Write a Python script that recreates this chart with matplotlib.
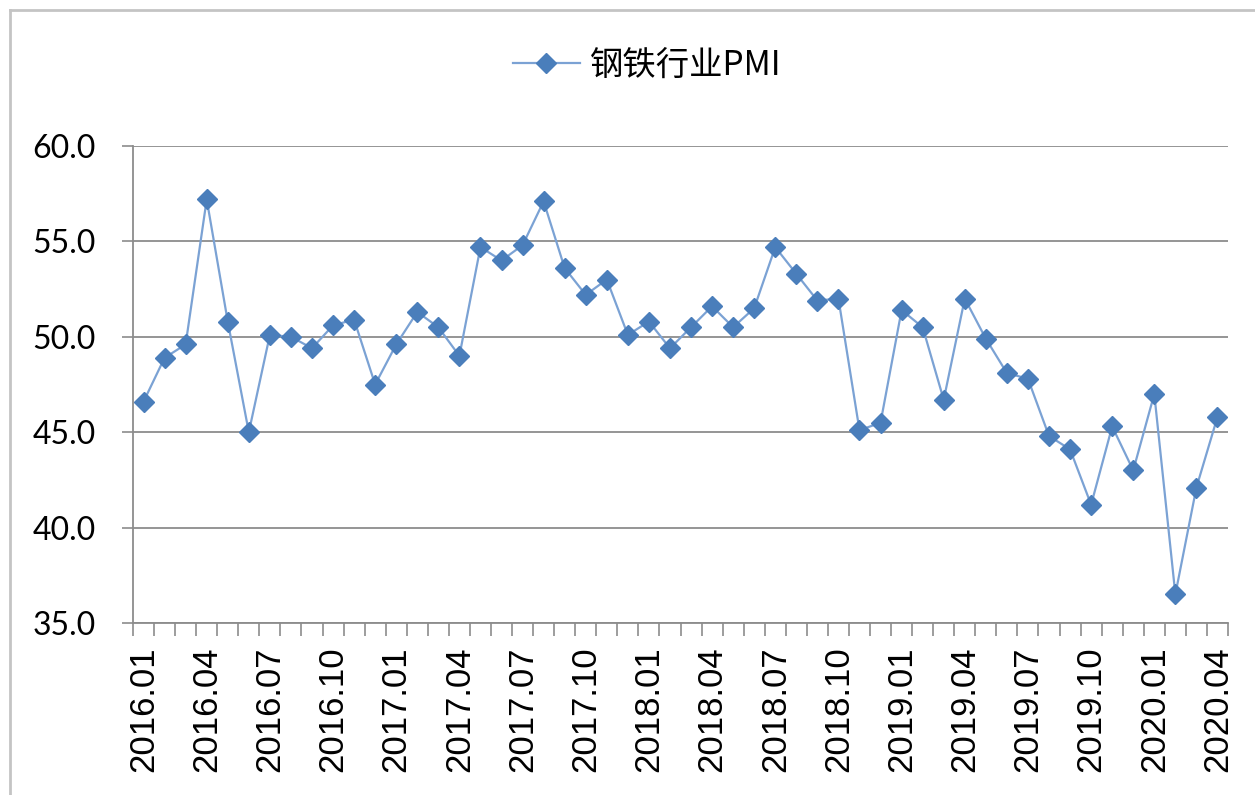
import matplotlib
matplotlib.use("Agg")
import matplotlib.pyplot as plt
from matplotlib.lines import Line2D
from matplotlib.ticker import FixedLocator, FormatStrFormatter

plt.rcParams["font.family"] = ["Liberation Sans", "Noto Sans CJK SC", "DejaVu Sans"]

SERIES_NAME = "钢铁行业PMI"

MONTHS = [f"{y}.{m:02d}" for y in range(2016, 2021) for m in range(1, 13)][:52]

PMI = [
    46.6, 48.9, 49.6, 57.2, 50.8, 45.0, 50.1, 50.0, 49.4, 50.6, 50.9, 47.5,
    49.6, 51.3, 50.5, 49.0, 54.7, 54.0, 54.8, 57.1, 53.6, 52.2, 53.0, 50.1,
    50.8, 49.4, 50.5, 51.6, 50.5, 51.5, 54.7, 53.3, 51.9, 52.0, 45.1, 45.5,
    51.4, 50.5, 46.7, 52.0, 49.9, 48.1, 47.8, 44.8, 44.1, 41.2, 45.3, 43.0,
    47.0, 36.5, 42.1, 45.8,
]

Y_TICKS = [35, 40, 45, 50, 55, 60]

LINE_COLOR = "#7ba2d4"
MARKER_COLOR = "#4a7ebb"
GRID_COLOR = "#8c8c8c"
BORDER_COLOR = "#c4c4c4"


def main() -> None:
    fig = plt.figure(figsize=(12.55, 7.95), dpi=100)
    ax = fig.add_axes([133 / 1255, 1 - 623 / 795, (1228 - 133) / 1255, (623 - 146) / 795])

    x = list(range(len(PMI)))
    ax.plot(x, PMI, color=LINE_COLOR, linewidth=1.6, marker="D", markersize=10,
            markerfacecolor=MARKER_COLOR, markeredgecolor=MARKER_COLOR, label=SERIES_NAME,
            zorder=3)

    ax.set_xlim(-0.5, len(PMI) - 0.5)
    ax.set_ylim(35, 60)
    ax.set_yticks(Y_TICKS)
    ax.yaxis.set_major_formatter(FormatStrFormatter("%.1f"))
    for lbl in ax.get_yticklabels():
        lbl.set_family(["Lato", "DejaVu Sans"])
    ax.grid(axis="y", color=GRID_COLOR, linewidth=1.3)
    ax.set_axisbelow(True)

    label_pos = list(range(0, len(PMI), 3))
    ax.set_xticks(label_pos)
    ax.set_xticklabels([MONTHS[i] for i in label_pos], rotation=90, fontsize=25)
    ax.tick_params(axis="x", which="major", length=0, pad=17)
    ax.xaxis.set_minor_locator(FixedLocator([i - 0.5 for i in range(len(PMI) + 1)]))
    ax.tick_params(axis="x", which="minor", length=9, width=1.2, color=GRID_COLOR)
    ax.tick_params(axis="y", length=8, width=1.2, color=GRID_COLOR, labelsize=23, pad=19)
    for lbl in ax.get_yticklabels():
        lbl.set_family(["Lato", "DejaVu Sans"])

    for side in ("top", "right"):
        ax.spines[side].set_visible(False)
    for side in ("left", "bottom"):
        ax.spines[side].set_color(GRID_COLOR)
        ax.spines[side].set_linewidth(1.3)

    fig.legend(loc="center", bbox_to_anchor=(647 / 1255, 1 - 65 / 795), frameon=False,
               prop={"family": ["Noto Sans CJK SC", "DejaVu Sans"], "size": 24},
               handlelength=2.0, handletextpad=0.3)

    # chart frame: only the left and top edges are inside the picture
    fig.lines.append(Line2D([10 / 1255, 10 / 1255], [0, 1 - 10 / 795], transform=fig.transFigure,
                            color=BORDER_COLOR, linewidth=2))
    fig.lines.append(Line2D([10 / 1255, 1], [1 - 10 / 795, 1 - 10 / 795], transform=fig.transFigure,
                            color=BORDER_COLOR, linewidth=2))

    fig.savefig("out.png", dpi=100)
    plt.close(fig)


if __name__ == "__main__":
    main()
